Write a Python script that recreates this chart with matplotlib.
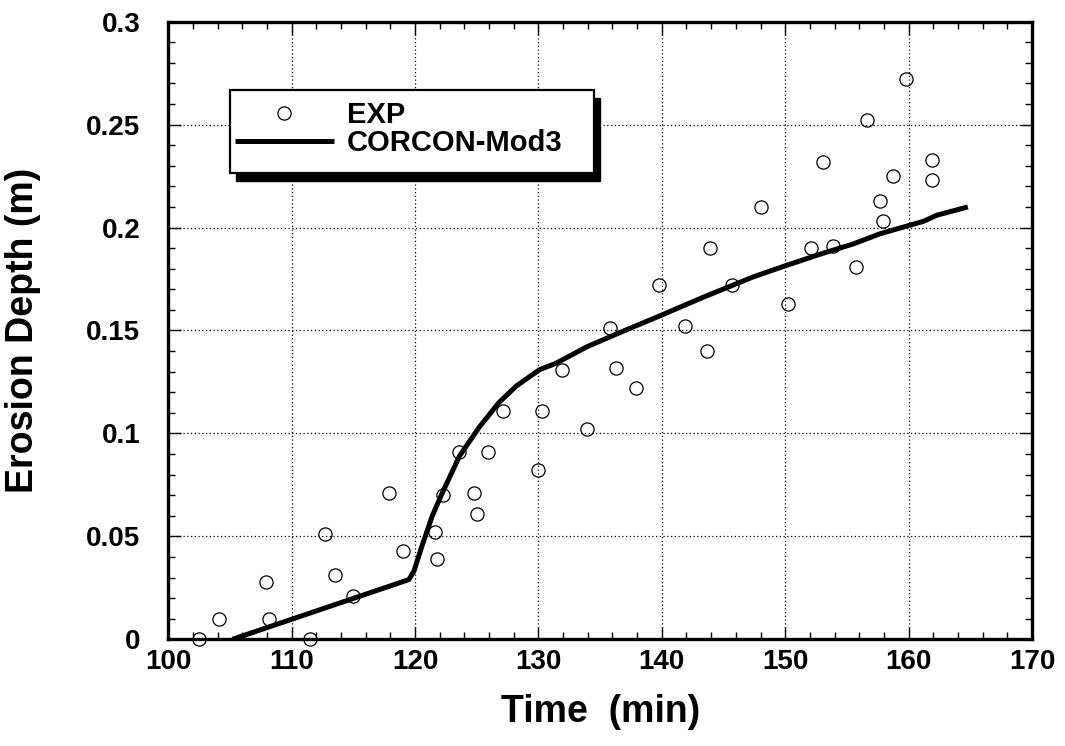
import numpy as np
import matplotlib
matplotlib.use("Agg")
import matplotlib.pyplot as plt
from matplotlib.ticker import MultipleLocator
from matplotlib.patches import Rectangle

exp_time = [102.5, 104.1, 107.9, 108.2, 111.5, 112.7, 113.5, 115.0, 117.9, 119.0,
            121.6, 121.8, 122.3, 123.6, 124.8, 125.0, 125.9, 127.1, 130.0, 130.3,
            131.9, 133.9, 135.8, 136.3, 137.9, 139.8, 141.9, 143.7, 143.9, 145.7,
            148.0, 150.2, 152.1, 153.1, 153.9, 155.7, 156.6, 157.7, 157.9, 158.7,
            159.8, 161.9, 161.9]
exp_depth = [0.000, 0.010, 0.028, 0.010, 0.000, 0.051, 0.031, 0.021, 0.071, 0.043,
             0.052, 0.039, 0.070, 0.091, 0.071, 0.061, 0.091, 0.111, 0.082, 0.111,
             0.131, 0.102, 0.151, 0.132, 0.122, 0.172, 0.152, 0.140, 0.190, 0.172,
             0.210, 0.163, 0.190, 0.232, 0.191, 0.181, 0.252, 0.213, 0.203, 0.225,
             0.272, 0.233, 0.223]

# CORCON-Mod3 calculation
calc_time = [105.2, 119.5, 119.9, 120.6, 121.4, 122.2, 123.6, 125.2, 126.8, 128.2,
             130.1, 131.4, 133.9, 137.0, 139.8, 143.3, 147.4, 149.8, 152.8, 155.5,
             157.7, 161.2, 162.3, 164.8]
calc_depth = [0.000, 0.029, 0.033, 0.046, 0.060, 0.071, 0.089, 0.103, 0.115, 0.123,
              0.131, 0.134, 0.142, 0.150, 0.157, 0.166, 0.176, 0.181, 0.187, 0.192,
              0.197, 0.203, 0.206, 0.210]

ytick_vals = [0, 0.05, 0.1, 0.15, 0.2, 0.25, 0.3]
ytick_text = ["0", "0.05", "0.1", "0.15", "0.2", "0.25", "0.3"]

plt.rcParams["font.family"] = ["Liberation Sans", "DejaVu Sans"]
plt.rcParams["font.weight"] = "bold"

fig = plt.figure(figsize=(10.65, 7.46), dpi=100)
ax = fig.add_axes([0.158, 0.143, 0.811, 0.828])

ax.plot(calc_time, calc_depth, color="black", lw=3.6, solid_capstyle="butt",
        label="CORCON-Mod3", zorder=3)
ax.plot(exp_time, exp_depth, ls="none", marker="o", ms=9.5, mfc="none",
        mec="black", mew=0.9, label="EXP", zorder=4, clip_on=False)

ax.set_xlim(100, 170)
ax.set_ylim(0, 0.3)
ax.xaxis.set_major_locator(MultipleLocator(10))
ax.xaxis.set_minor_locator(MultipleLocator(2))
ax.yaxis.set_minor_locator(MultipleLocator(0.01))
ax.set_yticks(ytick_vals)
ax.set_yticklabels(ytick_text)

ax.tick_params(which="both", direction="in", top=True, right=True,
               width=1.0, color="black")
ax.tick_params(which="major", length=9)
ax.tick_params(which="minor", length=5)
ax.tick_params(axis="y", labelsize=20, pad=20)
ax.tick_params(axis="x", labelsize=20, pad=7)
for lab in ax.get_xticklabels() + ax.get_yticklabels():
    lab.set_fontweight("bold")

ax.grid(True, which="major", ls=(0, (1, 2)), lw=0.9, color="black")
for s in ax.spines.values():
    s.set_linewidth(2.4)

ax.set_xlabel("Time  (min)", fontsize=27, fontweight="bold", va="top")
ax.set_ylabel("Erosion Depth (m)", fontsize=27, fontweight="bold")
ax.xaxis.set_label_coords(0.5, -0.088)
ax.yaxis.set_label_coords(-0.147, 0.5)

# legend box with a solid drop shadow
bx, by, bw, bh = 105.0, 0.2266, 29.5, 0.0404
ax.add_patch(Rectangle((bx + 0.45, by - 0.004), bw, bh, facecolor="black",
                       edgecolor="black", zorder=5))
ax.add_patch(Rectangle((bx, by), bw, bh, facecolor="white",
                       edgecolor="black", lw=1.6, zorder=6))
h, l = ax.get_legend_handles_labels()
leg = ax.legend([h[1], h[0]], [l[1], l[0]], loc="upper left",
                bbox_to_anchor=(0.0535, 0.905), frameon=False,
                prop={"size": 21, "weight": "bold"}, handlelength=3.4,
                handletextpad=0.45, labelspacing=0.02, borderpad=0.2)
leg.set_zorder(7)

fig.savefig("out.png", dpi=100)
